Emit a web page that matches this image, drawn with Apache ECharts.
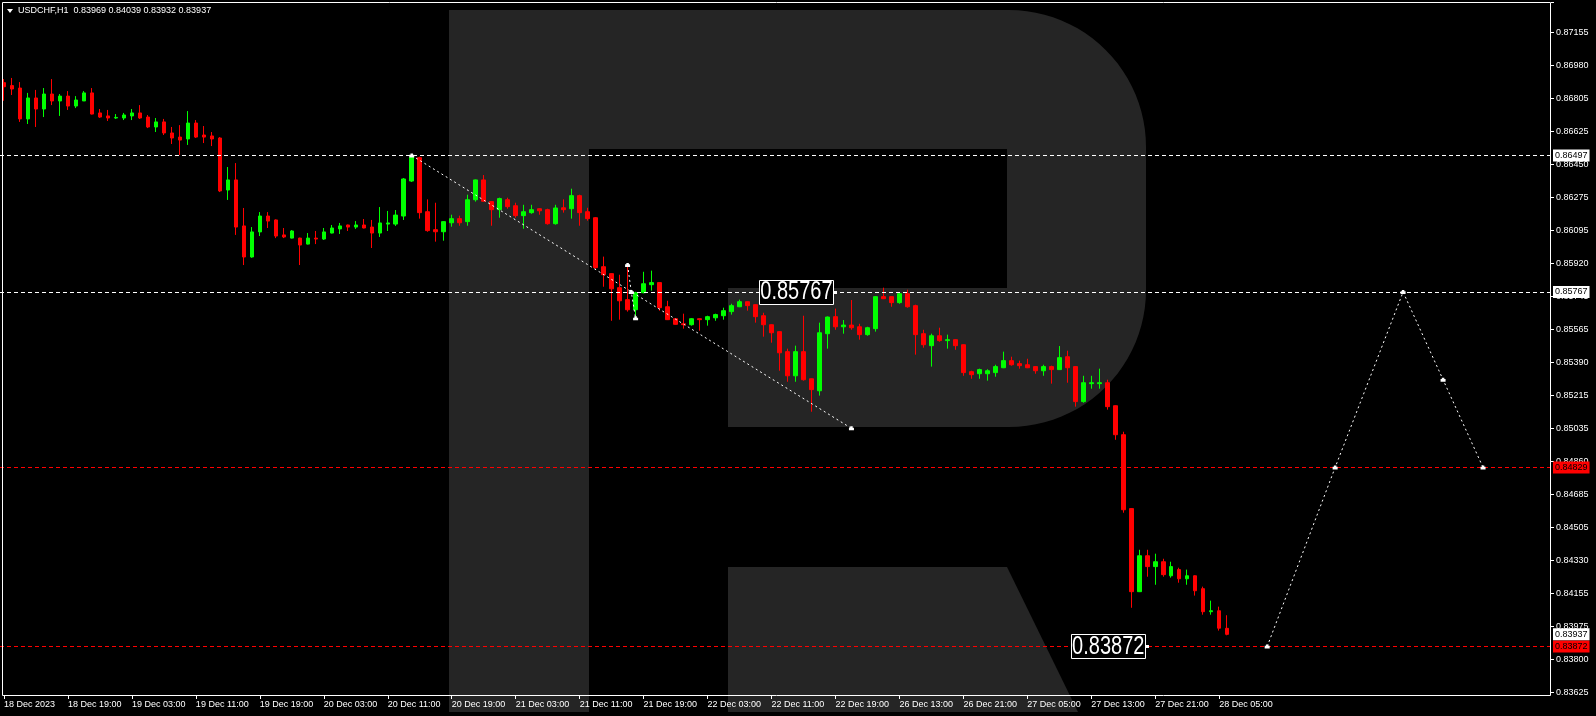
<!DOCTYPE html>
<html><head><meta charset="utf-8">
<script src="https://cdn.jsdelivr.net/npm/echarts@6/dist/echarts.min.js"></script>
<style>html,body{margin:0;padding:0;background:#000;}#c{width:1596px;height:716px;}</style>
</head><body><div id="c"></div>
<script>
const symbolName = 'USDCHF,H1';
const FONT = '"Liberation Sans", Arial, sans-serif';

const xTickLabels = ['18 Dec 2023','18 Dec 19:00','19 Dec 03:00','19 Dec 11:00','19 Dec 19:00','20 Dec 03:00','20 Dec 11:00','20 Dec 19:00','21 Dec 03:00','21 Dec 11:00','21 Dec 19:00','22 Dec 03:00','22 Dec 11:00','22 Dec 19:00','26 Dec 13:00','26 Dec 21:00','27 Dec 05:00','27 Dec 13:00','27 Dec 21:00','28 Dec 05:00'];
const yTickLabels = ['0.83625','0.83800','0.83975','0.84155','0.84330','0.84505','0.84685','0.84860','0.85035','0.85215','0.85390','0.85565','0.85745','0.85920','0.86095','0.86275','0.86450','0.86625','0.86805','0.86980','0.87155'];
const yMin = 0.83625, yMax = 0.87317, yStep = 0.001765;
const barSlots = 194;

const openP = [0.86886,0.86870,0.86857,0.86692,0.86804,0.86745,0.86825,0.86788,0.86814,0.86761,
0.86788,0.86831,0.86724,0.86708,0.86697,0.86697,0.86708,0.86724,0.86702,0.86649,
0.86676,0.86617,0.86595,0.86585,0.86670,0.86606,0.86601,0.86590,0.86312,0.86366,
0.86120,0.85954,0.86088,0.86173,0.86152,0.86072,0.86055,0.86055,0.86023,0.86055,
0.86050,0.86082,0.86104,0.86125,0.86114,0.86125,0.86114,0.86082,0.86130,0.86130,
0.86173,0.86360,0.86485,0.86196,0.86100,0.86089,0.86137,0.86159,0.86143,0.86260,
0.86366,0.86250,0.86207,0.86260,0.86228,0.86175,0.86191,0.86212,0.86207,0.86132,
0.86217,0.86212,0.86282,0.86196,0.86164,0.85902,0.85865,0.85790,0.85726,0.85672,
0.85763,0.85806,0.85817,0.85688,0.85624,0.85597,0.85592,0.85624,0.85619,0.85629,
0.85640,0.85662,0.85688,0.85715,0.85699,0.85640,0.85592,0.85555,0.85448,0.85319,
0.85448,0.85303,0.85239,0.85544,0.85635,0.85581,0.85590,0.85581,0.85539,0.85571,
0.85742,0.85742,0.85710,0.85758,0.85694,0.85544,0.85480,0.85533,0.85507,0.85512,
0.85485,0.85341,0.85330,0.85330,0.85336,0.85362,0.85400,0.85384,0.85378,0.85368,
0.85346,0.85368,0.85352,0.85421,0.85368,0.85181,0.85277,0.85277,0.85282,0.85159,
0.85004,0.84609,0.84165,0.84357,0.84299,0.84325,0.84250,0.84283,0.84234,0.84250,
0.84181,0.84058,0.84063,0.83969];
const highP = [0.86905,0.86911,0.86889,0.86831,0.86847,0.86857,0.86905,0.86825,0.86841,0.86814,
0.86841,0.86857,0.86745,0.86740,0.86718,0.86724,0.86745,0.86766,0.86713,0.86697,
0.86692,0.86649,0.86659,0.86734,0.86686,0.86654,0.86622,0.86595,0.86435,0.86456,
0.86216,0.86114,0.86194,0.86194,0.86155,0.86109,0.86098,0.86057,0.86082,0.86093,
0.86109,0.86125,0.86136,0.86127,0.86146,0.86157,0.86152,0.86221,0.86200,0.86205,
0.86376,0.86497,0.86490,0.86262,0.86244,0.86145,0.86180,0.86175,0.86287,0.86368,
0.86392,0.86252,0.86271,0.86271,0.86244,0.86233,0.86233,0.86214,0.86212,0.86233,
0.86262,0.86319,0.86287,0.86217,0.86167,0.85956,0.85867,0.85859,0.85902,0.85768,
0.85875,0.85881,0.85819,0.85720,0.85626,0.85651,0.85627,0.85626,0.85640,0.85651,
0.85683,0.85704,0.85726,0.85717,0.85701,0.85656,0.85594,0.85557,0.85464,0.85480,
0.85640,0.85305,0.85603,0.85636,0.85678,0.85617,0.85724,0.85597,0.85581,0.85744,
0.85790,0.85744,0.85763,0.85779,0.85699,0.85565,0.85544,0.85576,0.85539,0.85514,
0.85487,0.85346,0.85357,0.85354,0.85378,0.85448,0.85421,0.85400,0.85410,0.85370,
0.85378,0.85373,0.85478,0.85453,0.85370,0.85319,0.85319,0.85357,0.85298,0.85161,
0.85020,0.84611,0.84389,0.84389,0.84368,0.84341,0.84325,0.84293,0.84283,0.84252,
0.84192,0.84117,0.84085,0.84039];
const lowP = [0.86789,0.86820,0.86676,0.86665,0.86649,0.86702,0.86766,0.86708,0.86740,0.86750,
0.86788,0.86716,0.86697,0.86681,0.86692,0.86686,0.86686,0.86692,0.86643,0.86622,
0.86606,0.86558,0.86499,0.86553,0.86590,0.86563,0.86547,0.86301,0.86259,0.86072,
0.85911,0.85950,0.86066,0.86109,0.86055,0.86055,0.86053,0.85911,0.86021,0.86023,
0.86045,0.86080,0.86077,0.86093,0.86104,0.86107,0.86002,0.86061,0.86093,0.86120,
0.86152,0.86355,0.86159,0.86089,0.86036,0.86041,0.86116,0.86121,0.86121,0.86250,
0.86250,0.86121,0.86164,0.86212,0.86164,0.86105,0.86185,0.86180,0.86127,0.86127,
0.86191,0.86159,0.86121,0.86148,0.85891,0.85795,0.85613,0.85619,0.85662,0.85635,
0.85760,0.85774,0.85667,0.85617,0.85592,0.85571,0.85587,0.85560,0.85587,0.85613,
0.85619,0.85646,0.85686,0.85667,0.85603,0.85528,0.85496,0.85346,0.85287,0.85287,
0.85293,0.85127,0.85213,0.85464,0.85565,0.85544,0.85565,0.85512,0.85533,0.85555,
0.85729,0.85688,0.85704,0.85683,0.85432,0.85469,0.85368,0.85501,0.85464,0.85458,
0.85319,0.85303,0.85303,0.85293,0.85314,0.85360,0.85373,0.85357,0.85360,0.85330,
0.85319,0.85277,0.85350,0.85282,0.85154,0.85175,0.85250,0.85250,0.85138,0.84977,
0.84587,0.84079,0.84163,0.84245,0.84202,0.84245,0.84240,0.84213,0.84202,0.84144,
0.84042,0.84042,0.83957,0.83932];
const closeP = [0.86864,0.86852,0.86692,0.86804,0.86745,0.86825,0.86788,0.86814,0.86761,0.86793,
0.86831,0.86718,0.86702,0.86697,0.86700,0.86713,0.86724,0.86697,0.86649,0.86676,
0.86617,0.86590,0.86579,0.86670,0.86595,0.86595,0.86585,0.86307,0.86366,0.86114,
0.85954,0.86088,0.86173,0.86146,0.86066,0.86061,0.86093,0.86018,0.86055,0.86050,
0.86088,0.86109,0.86120,0.86114,0.86125,0.86109,0.86082,0.86136,0.86136,0.86178,
0.86371,0.86487,0.86191,0.86095,0.86089,0.86143,0.86159,0.86137,0.86260,0.86366,
0.86252,0.86207,0.86266,0.86223,0.86175,0.86196,0.86207,0.86201,0.86132,0.86216,
0.86207,0.86282,0.86191,0.86159,0.85897,0.85859,0.85784,0.85720,0.85672,0.85763,
0.85811,0.85817,0.85683,0.85619,0.85594,0.85592,0.85624,0.85619,0.85635,0.85646,
0.85667,0.85694,0.85715,0.85694,0.85635,0.85592,0.85549,0.85442,0.85319,0.85448,
0.85298,0.85245,0.85549,0.85633,0.85581,0.85590,0.85576,0.85539,0.85576,0.85742,
0.85731,0.85710,0.85758,0.85688,0.85539,0.85485,0.85533,0.85507,0.85512,0.85480,
0.85336,0.85325,0.85352,0.85346,0.85368,0.85400,0.85378,0.85373,0.85362,0.85346,
0.85368,0.85352,0.85416,0.85362,0.85181,0.85282,0.85282,0.85282,0.85154,0.85004,
0.84603,0.84165,0.84357,0.84299,0.84325,0.84256,0.84299,0.84234,0.84250,0.84170,
0.84058,0.84063,0.83970,0.83937];

const whiteLevels = [0.86497, 0.85767];
const redLevels = [0.84829, 0.83872];
const lastPrice = 0.83937;

const trendLine = [[51, 0.86497], [106, 0.85038]];
const smallSwing = [[78, 0.85911], [78.46, 0.85767], [79, 0.85626]];
const forecast = [[158, 0.83872], [166.5, 0.84829], [175, 0.85767], [180, 0.85298], [185, 0.84829]];
const boxLabels = [{bar: 104, price: 0.85767}, {bar: 143, price: 0.83872}];

const categories = Array.from({length: barSlots}, (_, i) => String(i));
const candles = openP.map((o, i) => [o, closeP[i], lowP[i], highP[i]]);
const last = openP.length - 1;

const markerPath = 'path://M1 0H3V1H4V3H0V1H1Z';
const tickFn = (idx) => idx % 8 === 0 && idx / 8 < xTickLabels.length;

function levelLine(v, color, bg) {
  return {
    yAxis: v,
    lineStyle: {color: color, width: 1, type: [4, 3]},
    label: {show: true, position: 'end', distance: 2, formatter: v.toFixed(5),
      backgroundColor: bg, color: '#000', padding: [2, 2, 1, 2], fontSize: 9, fontFamily: FONT}
  };
}
function drawing(data) {
  return {
    type: 'line', xAxisIndex: 1, yAxisIndex: 0, data: data, z: 6,
    lineStyle: {color: '#fff', width: 1, type: [2, 3]},
    symbol: markerPath, symbolSize: [5, 4], showSymbol: true,
    itemStyle: {color: '#fff'}, animation: false, silent: true
  };
}

function arcPts(cx, cy, r, a0, a1, n) {
  const pts = [];
  for (let k = 0; k <= n; k++) {
    const a = a0 + (a1 - a0) * k / n;
    pts.push([cx + r * Math.cos(a), cy + r * Math.sin(a)]);
  }
  return pts;
}
const rBody = [[449, 10], [1009, 10]]
  .concat(arcPts(1009, 147, 137, -Math.PI / 2, 0, 24))
  .concat(arcPts(1009, 290, 137, 0, Math.PI / 2, 24))
  .concat([[728, 427], [728, 288], [1007, 288], [1007, 149], [589, 149], [589, 712], [449, 712]]);

const WM = '#252525';
const baseGraphic = [
  {type: 'polygon', id: 'wm1', z: -5, silent: true, shape: {points: rBody}, style: {fill: WM}},
  {type: 'polygon', id: 'wm2', z: -5, silent: true,
   shape: {points: [[728, 567], [1007, 567], [1078, 712], [728, 712]]}, style: {fill: WM}},
  {type: 'rect', id: 'frame', z: 10, silent: true,
   shape: {x: 2.5, y: 2.5, width: 1548, height: 693}, style: {fill: 'none', stroke: '#fff', lineWidth: 1}},
  {type: 'polygon', id: 'tri', z: 10, silent: true,
   shape: {points: [[7, 9], [13, 9], [10, 13]]}, style: {fill: '#fff'}}
];

const trendSeries = drawing(trendLine);
trendSeries.markLine = {
  symbol: ['none', 'none'], silent: true, animation: false, precision: 5,
  data: [
    levelLine(whiteLevels[0], '#fff', '#fff'),
    levelLine(whiteLevels[1], '#fff', '#fff'),
    levelLine(redLevels[0], '#ff0000', '#ff0000'),
    levelLine(redLevels[1], '#ff0000', '#ff0000'),
    Object.assign(levelLine(lastPrice, 'rgba(0,0,0,0)', '#fff'), {lineStyle: {color: 'rgba(0,0,0,0)', width: 0}})
  ]
};

const chart = echarts.init(document.getElementById('c'), null, {renderer: 'canvas'});
chart.setOption({
  backgroundColor: '#000',
  animation: false,
  title: {
    text: symbolName + '  ' + [openP[last], highP[last], lowP[last], closeP[last]].map(v => v.toFixed(5)).join(' '),
    left: 18, top: 6, padding: 0,
    textStyle: {color: '#fff', fontSize: 9, fontWeight: 'normal', fontFamily: FONT}
  },
  grid: {left: -1, right: 45, top: 2, bottom: 23.3, containLabel: false},
  xAxis: [{
    type: 'category', data: categories, boundaryGap: true, offset: 2.3,
    axisLine: {show: false, onZero: false},
    axisTick: {show: true, interval: tickFn, alignWithLabel: true, length: 4, lineStyle: {color: '#fff'}},
    axisLabel: {interval: tickFn, align: 'left', margin: 5, color: '#fff', fontSize: 9, fontFamily: FONT,
      formatter: (v, idx) => (idx % 8 === 0 && xTickLabels[idx / 8]) ? xTickLabels[idx / 8] : ''},
    splitLine: {show: false}
  }, {
    type: 'value', min: -0.5, max: barSlots - 0.5, show: false
  }],
  yAxis: {
    type: 'value', position: 'right', min: yMin, max: yMax, interval: yStep,
    axisLine: {show: false, onZero: false},
    axisTick: {show: true, inside: false, length: 3, lineStyle: {color: '#fff'}},
    minorTick: {show: false},
    axisLabel: {color: '#fff', fontSize: 9, fontFamily: FONT, margin: 5,
      formatter: (v) => { const k = Math.round((v - yMin) / yStep); return yTickLabels[k] || ''; }},
    splitLine: {show: false}
  },
  graphic: baseGraphic,
  series: [{
    type: 'candlestick', data: candles, barWidth: 4,
    itemStyle: {color: '#00ff00', color0: '#ff0000', borderColor: '#00ff00', borderColor0: '#ff0000', borderWidth: 1}
  }, trendSeries, drawing(smallSwing), drawing(forecast)]
});

const extra = [];
boxLabels.forEach((b, n) => {
  const p = chart.convertToPixel({seriesIndex: 1}, [b.bar, b.price]);
  const ax = p[0], ay = p[1];
  const right = ax - 2, w = 74, h = 24;
  extra.push({type: 'rect', id: 'box' + n, z: 8, silent: true,
    shape: {x: Math.round(right - w) + 0.5, y: Math.round(ay - h / 2) + 0.5, width: w, height: h},
    style: {fill: '#000', stroke: '#fff', lineWidth: 1}});
  extra.push({type: 'text', id: 'boxt' + n, z: 9, silent: true,
    x: right - w / 2, y: ay + 0.5, scaleY: 1.25,
    style: {text: b.price.toFixed(5), fill: '#fff', font: '20px ' + FONT, align: 'center', verticalAlign: 'middle'}});
  extra.push({type: 'rect', id: 'anc' + n, z: 9, silent: true,
    shape: {x: Math.round(ax) - 1, y: Math.round(ay) - 1, width: 3, height: 3}, style: {fill: '#fff'}});
});
chart.setOption({graphic: extra});
</script>
</body></html>
